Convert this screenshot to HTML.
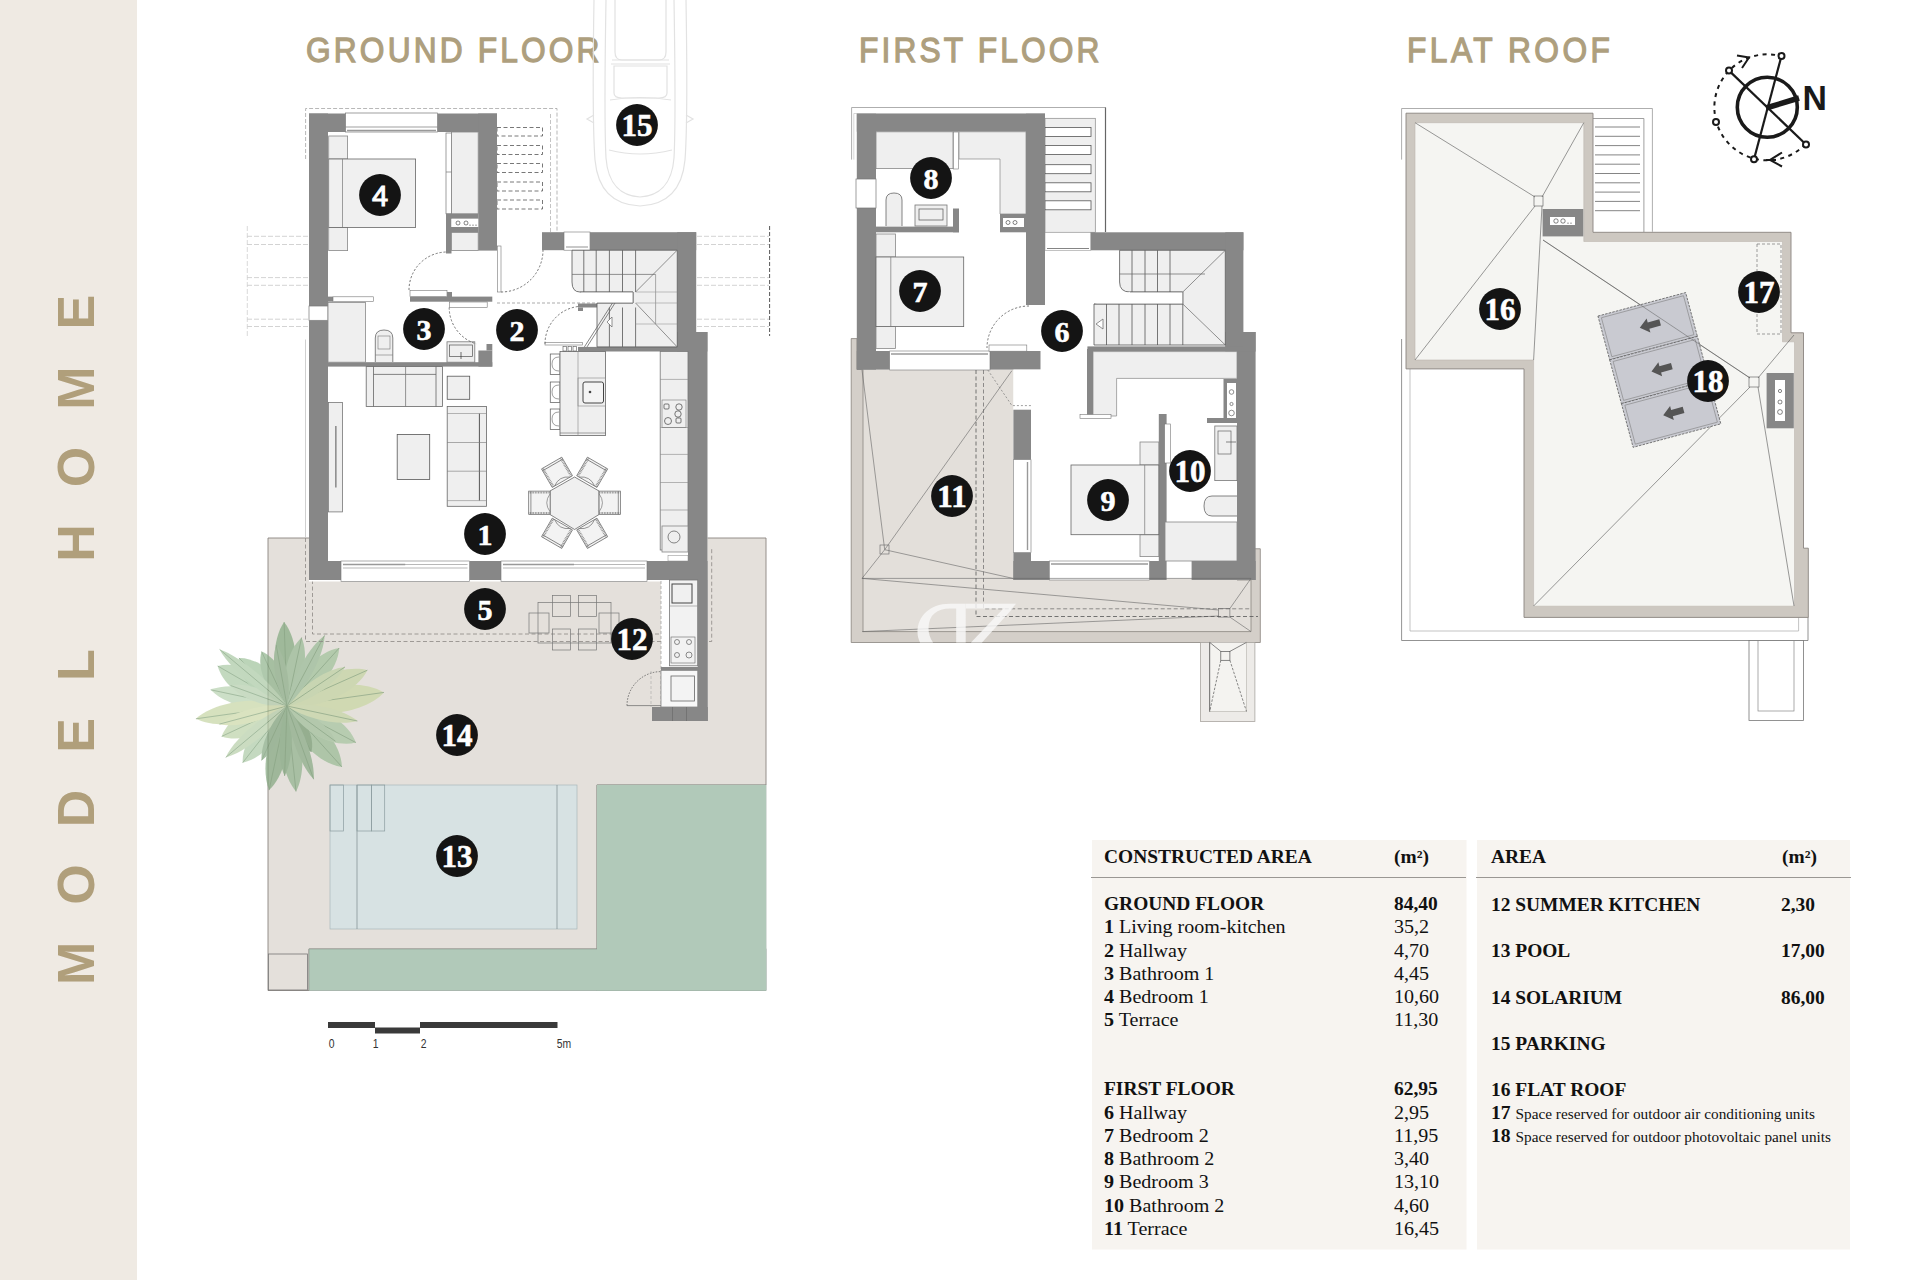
<!DOCTYPE html>
<html><head><meta charset="utf-8">
<style>
html,body{margin:0;padding:0;background:#fff;width:1920px;height:1280px;overflow:hidden}
svg{position:absolute;left:0;top:0;display:block}
</style></head>
<body>
<svg width="1920" height="1280" viewBox="0 0 1920 1280">
<rect x="0" y="0" width="137" height="1280" fill="#efeae3"/>
<text transform="translate(94,985) rotate(-90)" font-family="Liberation Sans,sans-serif" font-weight="bold" font-size="52" letter-spacing="37" fill="#b09f7b">MODEL HOME</text>
<g font-family="Liberation Sans,sans-serif" font-size="36" fill="#ae9f7e" stroke="#ae9f7e" stroke-width="1.3">
<text transform="translate(306 62) scale(0.88 1)" letter-spacing="3.6">GROUND FLOOR</text>
<text transform="translate(859 62) scale(0.88 1)" letter-spacing="3.6">FIRST FLOOR</text>
<text transform="translate(1407 62) scale(0.88 1)" letter-spacing="4">FLAT ROOF</text>
</g>
<g fill="#3a3a3a"><rect x="328" y="1022" width="47" height="6"/><rect x="375" y="1027.5" width="45" height="6"/><rect x="420" y="1022" width="137.5" height="6"/></g>
<g font-family="Liberation Sans,sans-serif" font-size="13" fill="#333" transform="scale(0.8,1)"><text x="411" y="1048">0</text><text x="466" y="1048">1</text><text x="526" y="1048">2</text><text x="696" y="1048">5m</text></g>
<g fill="none" stroke="#e2e2e2" stroke-width="1.2">
<path d="M594 0 C593 60 592 120 595 160 C598 192 615 205 640 206 C665 205 682 192 685 160 C688 120 687 60 686 0"/>
<path d="M606 0 C605 60 604 120 606 158 C608 185 622 196 640 197 C658 196 672 185 674 158 C676 120 675 60 674 0"/>
<path d="M615 0 V52 Q615 60 622 60 H659 Q666 60 666 52 V0"/>
<path d="M612 60 H669 M611 64 H670"/>
<path d="M614 66 V93 Q614 98 622 98 H659 Q667 98 667 93 V66 Z"/>
<path d="M610 100 Q640 95 671 100 M609 150 Q640 158 672 150"/>
<path d="M594 115 L587 119 L594 123 M686 115 L693 119 L686 123"/>
</g>
<path d="M268 538 H766 V785 H597 V949 H309 V990.5 H268 Z" fill="#e4e0db" stroke="#8a8580" stroke-width="0.9"/>
<rect x="597.0" y="785.0" width="169.0" height="205.5" fill="#b1c9b9" stroke="#8a9a90" stroke-width="0.6" />
<rect x="309.0" y="949.0" width="457.0" height="41.5" fill="#b1c9b9" stroke="#8a9a90" stroke-width="0.6" />
<rect x="597.0" y="785.0" width="169.0" height="205.5" fill="#b1c9b9" stroke="none" stroke-width="0.8" />
<rect x="268.5" y="954.0" width="39.0" height="36.0" fill="#e4e0db" stroke="#777" stroke-width="0.8" />
<rect x="330.0" y="785.0" width="247.0" height="144.0" fill="#d7e2e3" stroke="#a9b8ba" stroke-width="0.7" />
<line x1="357.0" y1="785.0" x2="357.0" y2="929.0" stroke="#7c8a8c" stroke-width="0.7"/>
<line x1="557.0" y1="785.0" x2="557.0" y2="929.0" stroke="#7c8a8c" stroke-width="0.7"/>
<rect x="330.0" y="785.0" width="13.5" height="46.0" fill="none" stroke="#8a9c9e" stroke-width="0.7" />
<rect x="357.0" y="785.0" width="14.4" height="46.0" fill="none" stroke="#8a9c9e" stroke-width="0.7" />
<rect x="371.4" y="785.0" width="13.3" height="46.0" fill="none" stroke="#8a9c9e" stroke-width="0.7" />
<defs><filter id="blr" x="-20%" y="-20%" width="140%" height="140%"><feGaussianBlur stdDeviation="0.7"/></filter></defs>
<g opacity="0.68" filter="url(#blr)">
<path d="M287 706 C302.0 676.1 297.4 638.4 284.1 622.1 C271.9 639.3 270.0 677.2 287 706 Z" fill="#7fa87c"/>
<path d="M287 706 L284.1 622.1" stroke="#5f875c" stroke-width="0.7" fill="none"/>
<path d="M287 706 C304.8 684.7 308.8 653.4 301.6 637.5 C288.5 649.1 279.4 679.3 287 706 Z" fill="#94b891"/>
<path d="M287 706 L301.6 637.5" stroke="#5f875c" stroke-width="0.7" fill="none"/>
<path d="M287 706 C272.8 674.7 239.6 660.1 217.7 666.0 C223.6 687.9 252.8 709.3 287 706 Z" fill="#a8c8a2"/>
<path d="M287 706 L217.7 666.0" stroke="#5f875c" stroke-width="0.7" fill="none"/>
<path d="M287 706 C263.2 686.6 228.3 682.1 210.7 689.8 C223.6 704.0 257.4 714.0 287 706 Z" fill="#b5d0ad"/>
<path d="M287 706 L210.7 689.8" stroke="#5f875c" stroke-width="0.7" fill="none"/>
<path d="M287 706 C282.9 676.4 258.7 657.4 238.9 657.9 C238.4 677.7 257.4 701.9 287 706 Z" fill="#9cc098"/>
<path d="M287 706 L238.9 657.9" stroke="#5f875c" stroke-width="0.7" fill="none"/>
<path d="M287 706 C252.9 694.6 212.3 703.6 195.9 718.8 C215.9 728.9 257.3 726.3 287 706 Z" fill="#c3d3a0"/>
<path d="M287 706 L195.9 718.8" stroke="#5f875c" stroke-width="0.7" fill="none"/>
<path d="M287 706 C256.6 700.3 228.7 717.3 221.7 736.4 C240.9 743.4 271.8 733.0 287 706 Z" fill="#b9d0a4"/>
<path d="M287 706 L221.7 736.4" stroke="#5f875c" stroke-width="0.7" fill="none"/>
<path d="M287 706 C258.9 716.0 241.5 743.5 242.7 762.7 C261.6 759.3 284.1 735.7 287 706 Z" fill="#a9c8a3"/>
<path d="M287 706 L242.7 762.7" stroke="#5f875c" stroke-width="0.7" fill="none"/>
<path d="M287 706 C266.1 732.3 261.0 770.8 269.1 790.1 C284.4 775.8 295.4 738.6 287 706 Z" fill="#7fa57c"/>
<path d="M287 706 L269.1 790.1" stroke="#5f875c" stroke-width="0.7" fill="none"/>
<path d="M287 706 C275.2 737.5 282.3 775.7 296.0 791.5 C306.1 773.2 305.1 734.4 287 706 Z" fill="#8db08a"/>
<path d="M287 706 L296.0 791.5" stroke="#5f875c" stroke-width="0.7" fill="none"/>
<path d="M287 706 C292.8 739.4 320.2 764.4 341.9 766.9 C341.6 745.1 319.6 715.3 287 706 Z" fill="#95b991"/>
<path d="M287 706 L341.9 766.9" stroke="#5f875c" stroke-width="0.7" fill="none"/>
<path d="M287 706 C302.7 734.7 335.3 748.0 355.9 742.6 C348.9 722.6 319.6 702.9 287 706 Z" fill="#a3c39d"/>
<path d="M287 706 L355.9 742.6" stroke="#5f875c" stroke-width="0.7" fill="none"/>
<path d="M287 706 C323.7 721.0 366.9 710.9 384.0 692.4 C362.4 679.2 318.2 681.4 287 706 Z" fill="#c8d6a0"/>
<path d="M287 706 L384.0 692.4" stroke="#5f875c" stroke-width="0.7" fill="none"/>
<path d="M287 706 C322.5 709.9 357.2 690.5 367.4 670.2 C345.5 664.2 307.8 677.0 287 706 Z" fill="#c3d49f"/>
<path d="M287 706 L367.4 670.2" stroke="#5f875c" stroke-width="0.7" fill="none"/>
<path d="M287 706 C317.2 696.4 338.3 668.2 339.2 648.0 C319.2 651.1 293.4 675.0 287 706 Z" fill="#9dc097"/>
<path d="M287 706 L339.2 648.0" stroke="#5f875c" stroke-width="0.7" fill="none"/>
<path d="M287 706 C284.9 727.7 298.1 747.2 311.4 751.9 C315.0 738.2 306.1 716.4 287 706 Z" fill="#6f976c"/>
<path d="M287 706 L311.4 751.9" stroke="#5f875c" stroke-width="0.7" fill="none"/>
<path d="M287 706 C290.8 681.1 276.9 657.8 261.6 651.6 C256.6 667.2 265.4 692.9 287 706 Z" fill="#8ab087"/>
<path d="M287 706 L261.6 651.6" stroke="#5f875c" stroke-width="0.7" fill="none"/>
<path d="M287 706 C292.1 683.1 285.5 655.9 276.2 644.9 C271.3 658.4 274.4 686.2 287 706 Z" fill="#86ab83"/>
<path d="M287 706 L276.2 644.9" stroke="#5f875c" stroke-width="0.7" fill="none"/>
<path d="M287 706 C270.7 689.4 244.6 682.1 230.6 685.5 C239.2 697.1 263.8 708.2 287 706 Z" fill="#b0cba8"/>
<path d="M287 706 L230.6 685.5" stroke="#5f875c" stroke-width="0.7" fill="none"/>
<path d="M287 706 C269.2 679.3 237.7 655.2 219.6 649.4 C228.4 666.3 257.6 693.1 287 706 Z" fill="#a6c6a0"/>
<path d="M287 706 L219.6 649.4" stroke="#5f875c" stroke-width="0.7" fill="none"/>
<path d="M287 706 C260.7 702.7 230.8 712.8 219.4 724.1 C235.0 728.2 265.9 722.0 287 706 Z" fill="#c9d6a3"/>
<path d="M287 706 L219.4 724.1" stroke="#5f875c" stroke-width="0.7" fill="none"/>
<path d="M287 706 C259.1 716.3 232.8 741.0 225.7 757.4 C243.1 753.3 272.0 731.7 287 706 Z" fill="#b3cca5"/>
<path d="M287 706 L225.7 757.4" stroke="#5f875c" stroke-width="0.7" fill="none"/>
<path d="M287 706 C270.0 721.2 260.2 746.5 261.6 760.4 C273.2 752.5 286.3 728.8 287 706 Z" fill="#7ea37b"/>
<path d="M287 706 L261.6 760.4" stroke="#5f875c" stroke-width="0.7" fill="none"/>
<path d="M287 706 C277.2 730.2 277.9 761.7 284.6 776.0 C292.2 762.2 295.1 730.8 287 706 Z" fill="#7aa177"/>
<path d="M287 706 L284.6 776.0" stroke="#5f875c" stroke-width="0.7" fill="none"/>
<path d="M287 706 C298.1 726.4 321.1 740.7 335.5 741.3 C330.5 727.7 309.9 710.3 287 706 Z" fill="#9cbe97"/>
<path d="M287 706 L335.5 741.3" stroke="#5f875c" stroke-width="0.7" fill="none"/>
<path d="M287 706 C309.6 721.0 341.7 725.8 357.4 721.0 C345.0 710.2 313.7 701.5 287 706 Z" fill="#c4d5a2"/>
<path d="M287 706 L357.4 721.0" stroke="#5f875c" stroke-width="0.7" fill="none"/>
<path d="M287 706 C312.9 700.6 337.9 681.3 345.0 666.9 C329.0 668.1 301.7 684.0 287 706 Z" fill="#bcd19f"/>
<path d="M287 706 L345.0 666.9" stroke="#5f875c" stroke-width="0.7" fill="none"/>
<path d="M287 706 C309.0 686.0 324.1 653.2 324.6 635.4 C310.0 645.7 291.3 676.6 287 706 Z" fill="#96b993"/>
<path d="M287 706 L324.6 635.4" stroke="#5f875c" stroke-width="0.7" fill="none"/>
<path d="M287 706 C287.9 734.7 301.6 767.1 313.7 779.3 C315.1 762.2 304.8 728.6 287 706 Z" fill="#83a880"/>
<path d="M287 706 L313.7 779.3" stroke="#5f875c" stroke-width="0.7" fill="none"/>
</g>
<line x1="305.5" y1="339.5" x2="305.5" y2="538.0" stroke="#c4c4c4" stroke-width="0.8"/>
<path d="M305.5 538 V641.5 H711.7 V549" fill="none" stroke="#8c8884" stroke-width="0.8" stroke-dasharray="4 2.5" />
<path d="M312.5 580 V634 H704" fill="none" stroke="#8c8884" stroke-width="0.8" stroke-dasharray="4 2.5" />
<line x1="247.0" y1="236.3" x2="309.0" y2="236.3" stroke="#c8c8c8" stroke-width="0.8" stroke-dasharray="5 2"/>
<line x1="697.0" y1="236.3" x2="769.0" y2="236.3" stroke="#c8c8c8" stroke-width="0.8" stroke-dasharray="5 2"/>
<line x1="247.0" y1="244.5" x2="309.0" y2="244.5" stroke="#c8c8c8" stroke-width="0.8" stroke-dasharray="5 2"/>
<line x1="697.0" y1="244.5" x2="769.0" y2="244.5" stroke="#c8c8c8" stroke-width="0.8" stroke-dasharray="5 2"/>
<line x1="247.0" y1="277.6" x2="309.0" y2="277.6" stroke="#c8c8c8" stroke-width="0.8" stroke-dasharray="5 2"/>
<line x1="697.0" y1="277.6" x2="769.0" y2="277.6" stroke="#c8c8c8" stroke-width="0.8" stroke-dasharray="5 2"/>
<line x1="247.0" y1="285.3" x2="309.0" y2="285.3" stroke="#c8c8c8" stroke-width="0.8" stroke-dasharray="5 2"/>
<line x1="697.0" y1="285.3" x2="769.0" y2="285.3" stroke="#c8c8c8" stroke-width="0.8" stroke-dasharray="5 2"/>
<line x1="247.0" y1="319.2" x2="309.0" y2="319.2" stroke="#c8c8c8" stroke-width="0.8" stroke-dasharray="5 2"/>
<line x1="697.0" y1="319.2" x2="769.0" y2="319.2" stroke="#c8c8c8" stroke-width="0.8" stroke-dasharray="5 2"/>
<line x1="247.0" y1="326.5" x2="309.0" y2="326.5" stroke="#c8c8c8" stroke-width="0.8" stroke-dasharray="5 2"/>
<line x1="697.0" y1="326.5" x2="769.0" y2="326.5" stroke="#c8c8c8" stroke-width="0.8" stroke-dasharray="5 2"/>
<line x1="247.3" y1="226.0" x2="247.3" y2="337.0" stroke="#cfcfcf" stroke-width="0.8" stroke-dasharray="5 2"/>
<line x1="769.6" y1="226.0" x2="769.6" y2="336.0" stroke="#444" stroke-width="0.9" stroke-dasharray="4 2"/>
<path d="M305.6 159 V108.5 H557 V233" fill="none" stroke="#9a9a9a" stroke-width="0.7" stroke-dasharray="4 2" />
<line x1="550.5" y1="114.0" x2="550.5" y2="233.0" stroke="#aaa" stroke-width="0.7" stroke-dasharray="4 2"/>
<rect x="497.0" y="127.5" width="45.5" height="8.5" fill="none" stroke="#555" stroke-width="0.8" stroke-dasharray="4 2.5"/>
<rect x="497.0" y="145.5" width="45.5" height="9.0" fill="none" stroke="#555" stroke-width="0.8" stroke-dasharray="4 2.5"/>
<rect x="497.0" y="163.5" width="45.5" height="9.0" fill="none" stroke="#555" stroke-width="0.8" stroke-dasharray="4 2.5"/>
<rect x="497.0" y="182.0" width="45.5" height="9.0" fill="none" stroke="#555" stroke-width="0.8" stroke-dasharray="4 2.5"/>
<rect x="497.0" y="200.0" width="45.5" height="9.0" fill="none" stroke="#555" stroke-width="0.8" stroke-dasharray="4 2.5"/>
<rect x="309.0" y="536.5" width="398.5" height="45.0" fill="#fff" stroke="none" stroke-width="0.8" />
<rect x="309.0" y="113.5" width="19.0" height="192.5" fill="#878787" stroke="none" stroke-width="0.8" />
<rect x="309.0" y="320.3" width="19.0" height="259.7" fill="#878787" stroke="none" stroke-width="0.8" />
<rect x="309.0" y="561.0" width="32.0" height="19.0" fill="#878787" stroke="none" stroke-width="0.8" />
<rect x="309.0" y="306.0" width="19.0" height="14.3" fill="#fff" stroke="#777" stroke-width="0.7" />
<rect x="309.0" y="113.5" width="36.6" height="18.5" fill="#878787" stroke="none" stroke-width="0.8" />
<rect x="437.5" y="113.5" width="59.5" height="18.5" fill="#878787" stroke="none" stroke-width="0.8" />
<rect x="478.2" y="113.5" width="18.8" height="137.1" fill="#878787" stroke="none" stroke-width="0.8" />
<rect x="345.6" y="113.0" width="91.9" height="19.0" fill="#fff" stroke="#777" stroke-width="0.7" />
<line x1="345.6" y1="127.0" x2="437.5" y2="127.0" stroke="#777" stroke-width="0.7"/>
<line x1="347.0" y1="130.5" x2="436.0" y2="130.5" stroke="#999" stroke-width="1.6"/>
<rect x="451.5" y="132.0" width="26.7" height="81.8" fill="#efefef" stroke="#888" stroke-width="0.8" />
<rect x="446.0" y="133.0" width="5.5" height="80.8" fill="#fff" stroke="#777" stroke-width="0.7" />
<line x1="446.0" y1="172.0" x2="451.5" y2="172.0" stroke="#777" stroke-width="0.7"/>
<rect x="446.0" y="213.8" width="32.2" height="5.0" fill="#878787" stroke="none" stroke-width="0.8" />
<rect x="446.0" y="213.8" width="5.5" height="39.7" fill="#878787" stroke="none" stroke-width="0.8" />
<rect x="446.0" y="227.0" width="32.2" height="5.4" fill="#878787" stroke="none" stroke-width="0.8" />
<rect x="451.5" y="218.8" width="26.7" height="8.2" fill="#fff" stroke="none" stroke-width="0.8" />
<g fill="none" stroke="#333" stroke-width="0.6"><circle cx="458" cy="223" r="2"/><circle cx="466" cy="223" r="2"/><path d="M470 226 v-1.5 M473 226 v-1.5 M476 226 v-1.5"/></g>
<rect x="451.5" y="232.4" width="26.7" height="18.2" fill="#efefef" stroke="#888" stroke-width="0.8" />
<rect x="328.7" y="136.0" width="18.9" height="23.0" fill="#efefef" stroke="#888" stroke-width="0.8" />
<rect x="328.7" y="227.5" width="18.9" height="23.1" fill="#efefef" stroke="#888" stroke-width="0.8" />
<rect x="328.7" y="159.0" width="86.9" height="68.5" fill="#f0f0f0" stroke="#666" stroke-width="0.8" />
<line x1="342.5" y1="159.0" x2="342.5" y2="227.5" stroke="#777" stroke-width="0.7"/>
<rect x="410.0" y="296.6" width="82.3" height="5.1" fill="#878787" stroke="none" stroke-width="0.8" />
<rect x="328.0" y="296.6" width="5.0" height="5.1" fill="#878787" stroke="none" stroke-width="0.8" />
<rect x="333.0" y="296.8" width="40.4" height="4.7" fill="#fff" stroke="#777" stroke-width="0.6" />
<rect x="410.0" y="290.4" width="37.0" height="6.2" fill="#fff" stroke="#777" stroke-width="0.6" />
<rect x="447.0" y="292.0" width="5.0" height="5.0" fill="#878787" stroke="none" stroke-width="0.8" />
<rect x="449.3" y="302.0" width="37.9" height="5.5" fill="#fff" stroke="#777" stroke-width="0.6" />
<rect x="328.0" y="362.2" width="164.3" height="4.4" fill="#878787" stroke="none" stroke-width="0.8" />
<rect x="478.4" y="350.5" width="13.9" height="16.1" fill="#878787" stroke="none" stroke-width="0.8" />
<rect x="486.5" y="344.0" width="5.8" height="6.5" fill="#878787" stroke="none" stroke-width="0.8" />
<rect x="328.0" y="302.4" width="37.4" height="59.8" fill="#efefef" stroke="#888" stroke-width="0.8" />
<path d="M375.3 362 V338 Q375.3 330 384 330 Q392.8 330 392.8 338 V362" fill="#efefef" stroke="#666" stroke-width="0.8" />
<rect x="378.0" y="336.0" width="12.0" height="13.0" fill="none" stroke="#777" stroke-width="0.6" />
<line x1="375.3" y1="355.0" x2="392.8" y2="355.0" stroke="#777" stroke-width="0.6"/>
<rect x="447.0" y="341.8" width="27.8" height="20.4" fill="#efefef" stroke="#777" stroke-width="0.8" />
<rect x="449.5" y="345.0" width="23.0" height="11.5" fill="none" stroke="#555" stroke-width="0.7" />
<line x1="461.0" y1="352.0" x2="461.0" y2="359.0" stroke="#333" stroke-width="0.7"/>
<path d="M409.0 290.0 A38 38 0 0 1 447.0 252.0" fill="none" stroke="#555" stroke-width="0.8" stroke-dasharray="2.2 1.8" />
<path d="M449.2 307.5 A38 38 0 0 0 476.1 343.8" fill="none" stroke="#555" stroke-width="0.8" stroke-dasharray="2.2 1.8" />
<rect x="497.4" y="246.0" width="3.6" height="46.0" fill="#fff" stroke="#777" stroke-width="0.6" />
<path d="M501.0 292.0 A42 42 0 0 0 543.0 250.0" fill="none" stroke="#555" stroke-width="0.8" stroke-dasharray="2.2 1.8" />
<rect x="545.0" y="342.5" width="37.5" height="2.5" fill="#fff" stroke="#777" stroke-width="0.6" />
<path d="M545.0 343.8 A37.5 37.5 0 0 1 579.2 306.4" fill="none" stroke="#555" stroke-width="0.8" stroke-dasharray="2.2 1.8" />
<path d="M497 303 H612" fill="none" stroke="#888" stroke-width="0.7" stroke-dasharray="3 2" />
<rect x="542.0" y="232.2" width="22.0" height="18.0" fill="#878787" stroke="none" stroke-width="0.8" />
<rect x="564.0" y="232.0" width="26.0" height="18.2" fill="#fff" stroke="#777" stroke-width="0.6" />
<line x1="566.0" y1="247.0" x2="588.0" y2="247.0" stroke="#777" stroke-width="0.8"/>
<rect x="590.0" y="232.2" width="106.2" height="18.0" fill="#878787" stroke="none" stroke-width="0.8" />
<rect x="677.2" y="232.2" width="19.0" height="119.2" fill="#878787" stroke="none" stroke-width="0.8" />
<rect x="688.0" y="332.0" width="19.5" height="248.0" fill="#878787" stroke="none" stroke-width="0.8" />
<rect x="677.2" y="332.0" width="30.2" height="19.5" fill="#878787" stroke="none" stroke-width="0.8" />
<rect x="578.0" y="346.9" width="110.0" height="4.6" fill="#878787" stroke="none" stroke-width="0.8" />
<rect x="578.0" y="303.5" width="34.5" height="4.0" fill="#878787" stroke="none" stroke-width="0.8" />
<rect x="578.0" y="307.5" width="5.0" height="3.5" fill="#878787" stroke="none" stroke-width="0.8" />
<g fill="#efefef" stroke="#555" stroke-width="0.8">
<path d="M572 250.25 H677.25 V346.9 H597 V303 H633 V292 H580 Q572 292 572 282 Z"/>
</g>
<line x1="583.8" y1="250.2" x2="583.8" y2="292.0" stroke="#555" stroke-width="0.8"/>
<line x1="596.2" y1="250.2" x2="596.2" y2="292.0" stroke="#555" stroke-width="0.8"/>
<line x1="609.4" y1="250.2" x2="609.4" y2="292.0" stroke="#555" stroke-width="0.8"/>
<line x1="622.5" y1="250.2" x2="622.5" y2="292.0" stroke="#555" stroke-width="0.8"/>
<line x1="635.6" y1="250.2" x2="635.6" y2="292.0" stroke="#555" stroke-width="0.8"/>
<line x1="609.4" y1="307.5" x2="609.4" y2="346.9" stroke="#555" stroke-width="0.8"/>
<line x1="622.5" y1="307.5" x2="622.5" y2="346.9" stroke="#555" stroke-width="0.8"/>
<line x1="635.6" y1="307.5" x2="635.6" y2="346.9" stroke="#555" stroke-width="0.8"/>
<line x1="572.0" y1="274.4" x2="655.6" y2="274.4" stroke="#666" stroke-width="0.7"/>
<line x1="655.6" y1="274.4" x2="655.6" y2="324.0" stroke="#777" stroke-width="0.6"/>
<line x1="635.6" y1="292.0" x2="677.2" y2="250.2" stroke="#666" stroke-width="0.7"/>
<line x1="635.6" y1="303.0" x2="677.2" y2="346.9" stroke="#666" stroke-width="0.7"/>
<line x1="635.6" y1="292.0" x2="677.2" y2="292.0" stroke="#999" stroke-width="0.6"/>
<line x1="635.6" y1="303.0" x2="677.2" y2="303.0" stroke="#999" stroke-width="0.6"/>
<line x1="635.6" y1="324.0" x2="677.2" y2="324.0" stroke="#999" stroke-width="0.6"/>
<path d="M580 292 H633 V303 H597" fill="#fff" stroke="#666" stroke-width="0.7" />
<line x1="584.4" y1="346.9" x2="612.5" y2="303.0" stroke="#666" stroke-width="0.8"/>
<line x1="587.0" y1="346.9" x2="615.0" y2="303.0" stroke="#666" stroke-width="0.8"/>
<path d="M607 322 L612 317 L612 327 Z" fill="#fff" stroke="#666" stroke-width="0.7" />
<rect x="469.5" y="561.0" width="31.5" height="19.0" fill="#878787" stroke="none" stroke-width="0.8" />
<rect x="647.0" y="561.0" width="60.5" height="19.0" fill="#878787" stroke="none" stroke-width="0.8" />
<rect x="341.0" y="561.0" width="128.5" height="20.4" fill="#fff" stroke="#777" stroke-width="0.6" />
<line x1="343.0" y1="564.5" x2="467.5" y2="564.5" stroke="#888" stroke-width="0.6"/>
<line x1="343.0" y1="568.0" x2="467.5" y2="568.0" stroke="#888" stroke-width="0.6"/>
<line x1="343.0" y1="564.5" x2="405.2" y2="564.5" stroke="#999" stroke-width="1.6"/>
<rect x="501.0" y="561.0" width="146.0" height="20.4" fill="#fff" stroke="#777" stroke-width="0.6" />
<line x1="503.0" y1="564.5" x2="645.0" y2="564.5" stroke="#888" stroke-width="0.6"/>
<line x1="503.0" y1="568.0" x2="645.0" y2="568.0" stroke="#888" stroke-width="0.6"/>
<line x1="503.0" y1="564.5" x2="574.0" y2="564.5" stroke="#999" stroke-width="1.6"/>
<rect x="366.2" y="366.6" width="76.2" height="39.9" fill="#efefef" stroke="#666" stroke-width="0.8" />
<line x1="373.5" y1="374.4" x2="436.0" y2="374.4" stroke="#666" stroke-width="0.8"/>
<line x1="373.5" y1="366.6" x2="373.5" y2="406.5" stroke="#666" stroke-width="0.8"/>
<line x1="436.0" y1="366.6" x2="436.0" y2="406.5" stroke="#666" stroke-width="0.8"/>
<line x1="405.6" y1="366.6" x2="405.6" y2="406.5" stroke="#777" stroke-width="0.8"/>
<rect x="447.2" y="376.2" width="22.5" height="23.1" fill="#efefef" stroke="#555" stroke-width="0.8" />
<rect x="447.2" y="406.5" width="39.2" height="99.8" fill="#efefef" stroke="#666" stroke-width="0.8" />
<line x1="479.4" y1="413.5" x2="479.4" y2="500.6" stroke="#555" stroke-width="1"/>
<line x1="447.2" y1="413.5" x2="486.5" y2="413.5" stroke="#888" stroke-width="0.6"/>
<line x1="447.2" y1="500.6" x2="486.5" y2="500.6" stroke="#888" stroke-width="0.6"/>
<line x1="447.2" y1="442.5" x2="486.5" y2="442.5" stroke="#777" stroke-width="0.6"/>
<line x1="447.2" y1="471.2" x2="486.5" y2="471.2" stroke="#777" stroke-width="0.6"/>
<rect x="397.2" y="434.4" width="32.5" height="45.0" fill="#efefef" stroke="#555" stroke-width="0.8" />
<rect x="328.5" y="402.5" width="14.0" height="109.4" fill="#efefef" stroke="#777" stroke-width="0.8" />
<line x1="335.9" y1="426.0" x2="335.9" y2="487.5" stroke="#555" stroke-width="1"/>
<g fill="#fff" stroke="#555" stroke-width="0.7">
<rect x="550.25" y="354" width="9.75" height="20.5"/>
<path d="M559 357 Q552 357 552 364 Q552 371 559 371" fill="none" stroke="#777"/>
<rect x="550.25" y="382" width="9.75" height="20.5"/>
<path d="M559 385 Q552 385 552 392 Q552 399 559 399" fill="none" stroke="#777"/>
<rect x="550.25" y="409" width="9.75" height="20.5"/>
<path d="M559 412 Q552 412 552 419 Q552 426 559 426" fill="none" stroke="#777"/>
</g>
<rect x="560.0" y="351.5" width="45.6" height="84.1" fill="#efefef" stroke="#666" stroke-width="0.8" />
<line x1="578.0" y1="351.5" x2="578.0" y2="435.6" stroke="#888" stroke-width="0.6"/>
<line x1="560.0" y1="433.0" x2="605.6" y2="433.0" stroke="#666" stroke-width="0.6"/>
<rect x="578.0" y="378.0" width="27.6" height="28.0" fill="none" stroke="#888" stroke-width="0.6" />
<rect x="583.0" y="382.0" width="20.5" height="21.0" fill="#f4f4f4" stroke="#444" stroke-width="1.0" rx="2"/>
<circle cx="590" cy="392" r="1.3" fill="#444"/>
<rect x="563.0" y="346.5" width="3.5" height="4.5" fill="#fff" stroke="#555" stroke-width="0.6" />
<rect x="568.0" y="346.5" width="3.5" height="4.5" fill="#fff" stroke="#555" stroke-width="0.6" />
<rect x="573.0" y="346.5" width="3.5" height="4.5" fill="#fff" stroke="#555" stroke-width="0.6" />
<rect x="660.2" y="351.5" width="27.8" height="198.5" fill="#efefef" stroke="#777" stroke-width="0.8" />
<line x1="660.2" y1="379.4" x2="688.0" y2="379.4" stroke="#888" stroke-width="0.6"/>
<line x1="660.2" y1="427.5" x2="688.0" y2="427.5" stroke="#888" stroke-width="0.6"/>
<line x1="660.2" y1="454.4" x2="688.0" y2="454.4" stroke="#888" stroke-width="0.6"/>
<line x1="660.2" y1="482.5" x2="688.0" y2="482.5" stroke="#888" stroke-width="0.6"/>
<line x1="660.2" y1="510.0" x2="688.0" y2="510.0" stroke="#888" stroke-width="0.6"/>
<rect x="662.0" y="400.0" width="24.0" height="27.5" fill="none" stroke="#777" stroke-width="0.6" />
<g fill="none" stroke="#444" stroke-width="0.7"><rect x="664" y="404" width="5" height="5" rx="1"/><circle cx="679" cy="407" r="3.2"/><circle cx="678" cy="414" r="3.2"/><circle cx="668" cy="421" r="3.5"/><rect x="676" y="418" width="5" height="5" rx="1"/></g>
<rect x="662.0" y="526.0" width="26.0" height="26.0" fill="#efefef" stroke="#888" stroke-width="0.8" />
<rect x="668.0" y="555.5" width="20.0" height="5.5" fill="#fff" stroke="#888" stroke-width="0.5" />
<circle cx="674" cy="537" r="6" fill="none" stroke="#555" stroke-width="0.7"/>
<polygon points="574.6,477 599,491 599,514.5 574.6,529.5 550,514.5 550,491" fill="#f0f0f0" stroke="#666" stroke-width="0.8"/>
<g transform="translate(539.4 502.8) rotate(180)">
<rect x="-10.7" y="-11.7" width="21.4" height="23.4" fill="#f3f3f3" stroke="#666" stroke-width="0.7"/>
<path d="M-10.7 -10.2 H10.7 M-10.7 10.2 H10.7" stroke="#888" stroke-width="2" stroke-dasharray="0.8 0.8" fill="none"/>
<path d="M8.5 -11.7 V11.7" stroke="#777" stroke-width="0.8" fill="none"/>
<path d="M-10.7 -9 Q-4 0 -10.7 9" stroke="#777" stroke-width="0.7" fill="none"/>
</g>
<g transform="translate(609.8 502.8) rotate(0)">
<rect x="-10.7" y="-11.7" width="21.4" height="23.4" fill="#f3f3f3" stroke="#666" stroke-width="0.7"/>
<path d="M-10.7 -10.2 H10.7 M-10.7 10.2 H10.7" stroke="#888" stroke-width="2" stroke-dasharray="0.8 0.8" fill="none"/>
<path d="M8.5 -11.7 V11.7" stroke="#777" stroke-width="0.8" fill="none"/>
<path d="M-10.7 -9 Q-4 0 -10.7 9" stroke="#777" stroke-width="0.7" fill="none"/>
</g>
<g transform="translate(557.0 472.3) rotate(-120)">
<rect x="-10.7" y="-11.7" width="21.4" height="23.4" fill="#f3f3f3" stroke="#666" stroke-width="0.7"/>
<path d="M-10.7 -10.2 H10.7 M-10.7 10.2 H10.7" stroke="#888" stroke-width="2" stroke-dasharray="0.8 0.8" fill="none"/>
<path d="M8.5 -11.7 V11.7" stroke="#777" stroke-width="0.8" fill="none"/>
<path d="M-10.7 -9 Q-4 0 -10.7 9" stroke="#777" stroke-width="0.7" fill="none"/>
</g>
<g transform="translate(592.2 472.3) rotate(-60)">
<rect x="-10.7" y="-11.7" width="21.4" height="23.4" fill="#f3f3f3" stroke="#666" stroke-width="0.7"/>
<path d="M-10.7 -10.2 H10.7 M-10.7 10.2 H10.7" stroke="#888" stroke-width="2" stroke-dasharray="0.8 0.8" fill="none"/>
<path d="M8.5 -11.7 V11.7" stroke="#777" stroke-width="0.8" fill="none"/>
<path d="M-10.7 -9 Q-4 0 -10.7 9" stroke="#777" stroke-width="0.7" fill="none"/>
</g>
<g transform="translate(557.0 533.3) rotate(120)">
<rect x="-10.7" y="-11.7" width="21.4" height="23.4" fill="#f3f3f3" stroke="#666" stroke-width="0.7"/>
<path d="M-10.7 -10.2 H10.7 M-10.7 10.2 H10.7" stroke="#888" stroke-width="2" stroke-dasharray="0.8 0.8" fill="none"/>
<path d="M8.5 -11.7 V11.7" stroke="#777" stroke-width="0.8" fill="none"/>
<path d="M-10.7 -9 Q-4 0 -10.7 9" stroke="#777" stroke-width="0.7" fill="none"/>
</g>
<g transform="translate(592.2 533.3) rotate(60)">
<rect x="-10.7" y="-11.7" width="21.4" height="23.4" fill="#f3f3f3" stroke="#666" stroke-width="0.7"/>
<path d="M-10.7 -10.2 H10.7 M-10.7 10.2 H10.7" stroke="#888" stroke-width="2" stroke-dasharray="0.8 0.8" fill="none"/>
<path d="M8.5 -11.7 V11.7" stroke="#777" stroke-width="0.8" fill="none"/>
<path d="M-10.7 -9 Q-4 0 -10.7 9" stroke="#777" stroke-width="0.7" fill="none"/>
</g>
<rect x="661.0" y="580.0" width="47.0" height="141.0" fill="#fff" stroke="none" stroke-width="0.8" />
<path d="M661 581 V707" fill="none" stroke="#999" stroke-width="0.7" stroke-dasharray="3 2" />
<rect x="669.5" y="580.0" width="28.2" height="85.8" fill="#f2f2f2" stroke="#777" stroke-width="0.8" />
<rect x="672.0" y="584.0" width="20.0" height="19.0" fill="#f0f0f0" stroke="#444" stroke-width="1" />
<line x1="669.5" y1="606.0" x2="697.7" y2="606.0" stroke="#888" stroke-width="0.6"/>
<rect x="671.0" y="637.0" width="24.0" height="26.0" fill="none" stroke="#666" stroke-width="0.6" />
<g fill="none" stroke="#444" stroke-width="0.6"><circle cx="677" cy="642" r="2.5"/><circle cx="689" cy="642" r="2.5"/><circle cx="677" cy="655" r="2.5"/><circle cx="689" cy="655" r="3"/></g>
<rect x="697.7" y="580.0" width="10.1" height="141.0" fill="#878787" stroke="none" stroke-width="0.8" />
<rect x="652.0" y="707.0" width="55.8" height="14.0" fill="#878787" stroke="none" stroke-width="0.8" />
<rect x="661.0" y="667.0" width="39.0" height="3.5" fill="#878787" stroke="none" stroke-width="0.8" />
<rect x="661.0" y="670.5" width="36.7" height="36.5" fill="#f7f7f7" stroke="#888" stroke-width="0.8" />
<rect x="671.0" y="676.0" width="23.5" height="25.0" fill="#f3f3f3" stroke="#666" stroke-width="0.8" />
<line x1="672.5" y1="707.0" x2="672.5" y2="721.0" stroke="#666" stroke-width="0.6"/>
<line x1="686.5" y1="707.0" x2="686.5" y2="721.0" stroke="#666" stroke-width="0.6"/>
<path d="M627.0 705.6 A34 34 0 0 1 661.0 671.6" fill="none" stroke="#555" stroke-width="0.8" stroke-dasharray="1.5 1.5" />
<line x1="627.0" y1="705.6" x2="661.0" y2="705.6" stroke="#666" stroke-width="0.7"/>
<path d="M651 671 V707" fill="none" stroke="#aaa" stroke-width="0.6" stroke-dasharray="3 2" />
<g fill="none" stroke="#777" stroke-width="0.7">
<rect x="538" y="602.5" width="73" height="40.5"/>
<rect x="552.5" y="595.5" width="18" height="21"/><rect x="552.5" y="629" width="18" height="21"/>
<rect x="578.5" y="595.5" width="18" height="21"/><rect x="578.5" y="629" width="18" height="21"/>
<rect x="529" y="613" width="20" height="20"/><rect x="599" y="613" width="20" height="20"/>
</g>
<path d="M851.2 338.6 H857 V369.5 H1013.6 V578.4 H1260.3 V642.5 H851.2 Z" fill="#e3dfda"/>
<path d="M851.2 338.6 H857 V369.5 H863 V631.6 H1251 V580 H1237 V548.75 H1260.3 V642.5 H851.2 Z" fill="#d4cfc9" stroke="#8a8580" stroke-width="0.8"/>
<rect x="1200.4" y="642.4" width="54.5" height="79.1" fill="#edebe8" stroke="#a9a5a0" stroke-width="0.8" />
<rect x="1209.7" y="642.4" width="36.8" height="69.1" fill="#f4f3f0" stroke="#b5b1ac" stroke-width="0.6" />
<line x1="1209.7" y1="642.4" x2="1209.7" y2="711.5" stroke="#555" stroke-width="0.8"/>
<g fill="none" stroke="#555" stroke-width="0.7">
<rect x="1220.8" y="651.4" width="9.1" height="8.9"/>
<path d="M1209.7 642.4 L1220.8 651.4 M1246.5 642.4 L1229.9 651.4"/>
<path d="M1220.8 660.3 L1209.7 711.5 M1229.9 660.3 L1246.5 711.5" stroke-dasharray="2.5 1.5"/>
</g>
<path d="M851.6 159.6 V107.5 H1105.5 V231.75" fill="none" stroke="#999" stroke-width="0.8"/>
<path d="M853.8 159.6 V113.5 H1045" fill="none" stroke="#bbb" stroke-width="0.6"/>
<rect x="1045.0" y="118.3" width="50.3" height="114.0" fill="#efefef" stroke="#888" stroke-width="0.7" />
<line x1="1105.5" y1="107.5" x2="1105.5" y2="232.0" stroke="#666" stroke-width="1.2"/>
<rect x="1045.0" y="127.4" width="46.0" height="9.0" fill="#fff" stroke="#555" stroke-width="0.8" />
<rect x="1045.0" y="145.4" width="46.0" height="9.0" fill="#fff" stroke="#555" stroke-width="0.8" />
<rect x="1045.0" y="164.7" width="46.0" height="9.0" fill="#fff" stroke="#555" stroke-width="0.8" />
<rect x="1045.0" y="182.8" width="46.0" height="9.0" fill="#fff" stroke="#555" stroke-width="0.8" />
<rect x="1045.0" y="200.8" width="46.0" height="9.0" fill="#fff" stroke="#555" stroke-width="0.8" />
<rect x="1045.0" y="232.3" width="45.8" height="18.0" fill="#fff" stroke="#999" stroke-width="0.6" />
<line x1="1047.0" y1="248.5" x2="1089.0" y2="248.5" stroke="#666" stroke-width="0.8"/>
<rect x="856.8" y="113.7" width="188.2" height="18.0" fill="#878787" stroke="none" stroke-width="0.8" />
<rect x="856.8" y="113.7" width="19.2" height="65.3" fill="#878787" stroke="none" stroke-width="0.8" />
<rect x="856.8" y="208.0" width="19.2" height="161.6" fill="#878787" stroke="none" stroke-width="0.8" />
<rect x="856.0" y="179.0" width="20.0" height="29.0" fill="#fff" stroke="#777" stroke-width="0.7" />
<rect x="1026.0" y="113.7" width="19.0" height="191.3" fill="#878787" stroke="none" stroke-width="0.8" />
<rect x="856.8" y="351.0" width="33.0" height="18.6" fill="#878787" stroke="none" stroke-width="0.8" />
<rect x="990.0" y="351.0" width="50.5" height="18.6" fill="#878787" stroke="none" stroke-width="0.8" />
<rect x="889.7" y="351.0" width="100.3" height="19.0" fill="#fff" stroke="#777" stroke-width="0.6" />
<line x1="891.0" y1="354.0" x2="988.0" y2="354.0" stroke="#999" stroke-width="1.4"/>
<rect x="876.0" y="131.8" width="77.0" height="36.8" fill="#efefef" stroke="#888" stroke-width="0.8" />
<rect x="876.0" y="226.6" width="83.0" height="5.7" fill="#878787" stroke="none" stroke-width="0.8" />
<rect x="953.0" y="208.5" width="6.0" height="23.8" fill="#878787" stroke="none" stroke-width="0.8" />
<path d="M959 131.75 H1026 V214 H1000 V159 H959 Z" fill="#efefef" stroke="#888" stroke-width="0.7" />
<rect x="953.5" y="132.0" width="5.0" height="37.0" fill="#fff" stroke="#777" stroke-width="0.6" />
<rect x="1000.0" y="214.0" width="26.0" height="18.3" fill="#878787" stroke="none" stroke-width="0.8" />
<rect x="1003.0" y="218.0" width="21.0" height="9.0" fill="#fff" stroke="none" stroke-width="0.8" />
<g fill="none" stroke="#333" stroke-width="0.6"><circle cx="1008" cy="222.5" r="2"/><circle cx="1015" cy="222.5" r="2"/></g>
<path d="M886 226 V200 Q886 193 894 193 Q902 193 902 200 V226" fill="#efefef" stroke="#666" stroke-width="0.8" />
<rect x="915.0" y="205.0" width="32.0" height="21.0" fill="#efefef" stroke="#777" stroke-width="0.8" />
<rect x="919.0" y="209.0" width="24.0" height="11.0" fill="none" stroke="#555" stroke-width="0.7" />
<rect x="876.0" y="234.0" width="19.4" height="23.0" fill="#efefef" stroke="#888" stroke-width="0.8" />
<rect x="876.0" y="326.6" width="19.4" height="21.9" fill="#efefef" stroke="#888" stroke-width="0.8" />
<rect x="876.0" y="257.0" width="87.7" height="69.6" fill="#f0f0f0" stroke="#666" stroke-width="0.8" />
<line x1="890.8" y1="257.0" x2="890.8" y2="326.6" stroke="#777" stroke-width="0.7"/>
<path d="M1029.0 306.0 A42 42 0 0 0 987.0 348.0" fill="none" stroke="#555" stroke-width="0.8" stroke-dasharray="2.2 1.8" />
<rect x="989.0" y="345.0" width="37.8" height="6.2" fill="#fff" stroke="#777" stroke-width="0.6" />
<rect x="1090.8" y="232.3" width="152.6" height="18.0" fill="#878787" stroke="none" stroke-width="0.8" />
<rect x="1225.3" y="232.3" width="18.1" height="119.3" fill="#878787" stroke="none" stroke-width="0.8" />
<rect x="1237.0" y="332.0" width="18.6" height="248.0" fill="#878787" stroke="none" stroke-width="0.8" />
<rect x="1225.3" y="332.0" width="30.3" height="19.6" fill="#878787" stroke="none" stroke-width="0.8" />
<path d="M1119.6 250.3 H1225.3 V345 H1094 V304 H1182.8 V292 H1130 Q1119.6 292 1119.6 282 Z" fill="#efefef" stroke="#555" stroke-width="0.8"/>
<line x1="1132.0" y1="250.3" x2="1132.0" y2="292.0" stroke="#555" stroke-width="0.8"/>
<line x1="1145.0" y1="250.3" x2="1145.0" y2="292.0" stroke="#555" stroke-width="0.8"/>
<line x1="1157.5" y1="250.3" x2="1157.5" y2="292.0" stroke="#555" stroke-width="0.8"/>
<line x1="1170.0" y1="250.3" x2="1170.0" y2="292.0" stroke="#555" stroke-width="0.8"/>
<line x1="1106.5" y1="304.0" x2="1106.5" y2="345.0" stroke="#555" stroke-width="0.8"/>
<line x1="1119.0" y1="304.0" x2="1119.0" y2="345.0" stroke="#555" stroke-width="0.8"/>
<line x1="1132.0" y1="304.0" x2="1132.0" y2="345.0" stroke="#555" stroke-width="0.8"/>
<line x1="1145.0" y1="304.0" x2="1145.0" y2="345.0" stroke="#555" stroke-width="0.8"/>
<line x1="1157.5" y1="304.0" x2="1157.5" y2="345.0" stroke="#555" stroke-width="0.8"/>
<line x1="1170.0" y1="304.0" x2="1170.0" y2="345.0" stroke="#555" stroke-width="0.8"/>
<line x1="1182.8" y1="304.0" x2="1182.8" y2="345.0" stroke="#555" stroke-width="0.8"/>
<line x1="1119.6" y1="274.0" x2="1205.0" y2="274.0" stroke="#666" stroke-width="0.7"/>
<line x1="1182.8" y1="292.0" x2="1225.3" y2="250.3" stroke="#666" stroke-width="0.7"/>
<line x1="1182.8" y1="304.0" x2="1225.3" y2="345.0" stroke="#666" stroke-width="0.7"/>
<path d="M1130 292 H1182.8 V304 H1094" fill="#fff" stroke="#666" stroke-width="0.7" />
<path d="M1096 324 L1103 319 L1103 329 Z" fill="#fff" stroke="#666" stroke-width="0.7" />
<rect x="1013.4" y="369.6" width="223.6" height="191.4" fill="#fff" stroke="none" stroke-width="0.8" />
<rect x="1087.4" y="346.4" width="155.6" height="5.2" fill="#878787" stroke="none" stroke-width="0.8" />
<rect x="1087.0" y="349.0" width="6.0" height="67.0" fill="#878787" stroke="none" stroke-width="0.8" />
<path d="M1093 351.6 H1237 V378.4 H1116.6 V416 H1093 Z" fill="#efefef" stroke="#888" stroke-width="0.7" />
<rect x="1013.4" y="409.7" width="17.6" height="50.0" fill="#878787" stroke="none" stroke-width="0.8" />
<rect x="1013.4" y="552.5" width="17.6" height="27.5" fill="#878787" stroke="none" stroke-width="0.8" />
<rect x="1013.4" y="459.7" width="17.6" height="92.8" fill="#fff" stroke="#777" stroke-width="0.6" />
<line x1="1027.5" y1="462.0" x2="1027.5" y2="550.0" stroke="#999" stroke-width="1.4"/>
<rect x="1013.4" y="561.0" width="36.0" height="19.0" fill="#878787" stroke="none" stroke-width="0.8" />
<rect x="1149.4" y="561.0" width="15.6" height="19.0" fill="#878787" stroke="none" stroke-width="0.8" />
<rect x="1191.6" y="561.0" width="64.0" height="19.0" fill="#878787" stroke="none" stroke-width="0.8" />
<rect x="1049.4" y="561.0" width="100.0" height="19.0" fill="#fff" stroke="#777" stroke-width="0.6" />
<line x1="1051.0" y1="564.0" x2="1148.0" y2="564.0" stroke="#999" stroke-width="1.4"/>
<rect x="1158.8" y="414.0" width="7.8" height="166.0" fill="#878787" stroke="none" stroke-width="0.8" />
<rect x="1140.0" y="442.0" width="18.8" height="23.0" fill="#efefef" stroke="#888" stroke-width="0.8" />
<rect x="1140.0" y="534.7" width="18.8" height="21.9" fill="#efefef" stroke="#888" stroke-width="0.8" />
<rect x="1071.0" y="465.0" width="87.8" height="69.7" fill="#f0f0f0" stroke="#666" stroke-width="0.8" />
<line x1="1144.7" y1="465.0" x2="1144.7" y2="534.7" stroke="#777" stroke-width="0.7"/>
<rect x="1214.8" y="426.0" width="22.2" height="54.6" fill="#efefef" stroke="#777" stroke-width="0.8" />
<rect x="1218.0" y="431.0" width="13.0" height="23.0" fill="none" stroke="#666" stroke-width="0.7" />
<line x1="1226.0" y1="442.0" x2="1236.0" y2="442.0" stroke="#555" stroke-width="0.7"/>
<rect x="1164.6" y="424.0" width="5.9" height="39.0" fill="#fff" stroke="#777" stroke-width="0.6" />
<rect x="1080.0" y="414.5" width="31.0" height="4.0" fill="#fff" stroke="#777" stroke-width="0.6" />
<rect x="1165.0" y="522.0" width="72.0" height="39.0" fill="#efefef" stroke="#888" stroke-width="0.8" />
<path d="M1237 496 H1212 Q1204 496 1204 506 Q1204 516 1212 516 H1237" fill="#efefef" stroke="#666" stroke-width="0.8" />
<rect x="1223.5" y="379.0" width="13.5" height="40.0" fill="#878787" stroke="none" stroke-width="0.8" />
<rect x="1227.0" y="383.0" width="9.0" height="35.0" fill="#fff" stroke="none" stroke-width="0.8" />
<g fill="none" stroke="#444" stroke-width="0.6"><circle cx="1231.5" cy="392" r="2.3"/><circle cx="1231.5" cy="404" r="1.6"/><circle cx="1231.5" cy="413" r="2.8"/></g>
<rect x="1207.0" y="418.0" width="30.0" height="5.0" fill="#878787" stroke="none" stroke-width="0.8" />
<g fill="none" stroke="#666" stroke-width="0.6">
<path d="M862 370 L884.7 549.7 L1013 578.4 M884.7 549.7 L1011.9 370.7 M884.7 549.7 L862 578.4 M862 578.4 H1251 M862 578.4 L1218.6 610 M862 631.6 L1218.6 616 M1229.9 608.5 L1251 578.4 M1229.9 617.1 L1251 631.6"/>
<rect x="880" y="545" width="9" height="9"/><rect x="1218.6" y="608.5" width="11.3" height="8.6"/>
</g>
<path d="M987.8 370 L1011.9 405.6 H1031" fill="none" stroke="#777" stroke-width="0.7" stroke-dasharray="2 2" />
<path d="M976 370 V616.5 H1258" fill="none" stroke="#555" stroke-width="0.8" stroke-dasharray="4 2.5" />
<path d="M983.5 370 V608.8 H1251" fill="none" stroke="#666" stroke-width="0.7" stroke-dasharray="4 2.5" />
<g fill="#fafafa" opacity="0.8">
<path d="M965.7 603.7 H950 C929 603.7 917.5 617 917.5 632 C917.5 636 918.5 639.5 920 642.4 H933 C930 638 928.5 634 928.5 628 C928.5 615 937 608.5 950 608.5 H956.2 V642.4 H965.7 Z"/>
<path d="M965.7 603.7 H1016 L1012 608.5 H965.7 Z"/>
<path d="M1004 608 L1013 608 L982 642.4 L971 642.4 Z"/>
</g>
<path d="M1401.6 159.6 V108.5 H1652.4 V231.75" fill="none" stroke="#999" stroke-width="0.8" />
<path d="M1401.6 339 V640.5 H1808 V617" fill="none" stroke="#777" stroke-width="0.8" />
<path d="M1410 368 V631 H1798.6 V617" fill="none" stroke="#aaa" stroke-width="0.7" />
<line x1="1595.0" y1="127.0" x2="1640.0" y2="127.0" stroke="#666" stroke-width="0.8"/>
<line x1="1595.0" y1="136.3" x2="1640.0" y2="136.3" stroke="#666" stroke-width="0.8"/>
<line x1="1595.0" y1="145.6" x2="1640.0" y2="145.6" stroke="#666" stroke-width="0.8"/>
<line x1="1595.0" y1="154.9" x2="1640.0" y2="154.9" stroke="#666" stroke-width="0.8"/>
<line x1="1595.0" y1="164.2" x2="1640.0" y2="164.2" stroke="#666" stroke-width="0.8"/>
<line x1="1595.0" y1="173.5" x2="1640.0" y2="173.5" stroke="#666" stroke-width="0.8"/>
<line x1="1595.0" y1="182.8" x2="1640.0" y2="182.8" stroke="#666" stroke-width="0.8"/>
<line x1="1595.0" y1="192.1" x2="1640.0" y2="192.1" stroke="#666" stroke-width="0.8"/>
<line x1="1595.0" y1="201.4" x2="1640.0" y2="201.4" stroke="#666" stroke-width="0.8"/>
<line x1="1595.0" y1="210.7" x2="1640.0" y2="210.7" stroke="#666" stroke-width="0.8"/>
<path d="M1593 118.5 H1643.9 V232" fill="none" stroke="#888" stroke-width="0.8" />
<rect x="1749.0" y="640.5" width="54.5" height="80.1" fill="#fff" stroke="#777" stroke-width="0.8" />
<rect x="1758.0" y="640.5" width="36.0" height="70.5" fill="none" stroke="#888" stroke-width="0.7" />
<path d="M1406 113.2 H1593 V232.3 H1791 V332.8 H1803.5 V548.2 H1808.3 V617.4 H1524 V368.9 H1406 Z" fill="#f5f5f2"/>
<path d="M1406 113.2 H1593 V232.3 H1791 V332.8 H1803.5 V548.2 H1808.3 V617.4 H1524 V368.9 H1406 Z M1415 122.7 V360 H1533.6 V606.2 H1794.5 V341.8 H1782.5 V241.5 H1583.8 V122.7 Z" fill="#cdc8c1" fill-rule="evenodd"/>
<path d="M1415 122.7 V360 H1533.6 V606.2 H1794.5 V341.8 H1782.5 V241.5 H1583.8 V122.7 Z" fill="none" stroke="#bdb7b0" stroke-width="0.6"/>
<path d="M1406 113.2 H1593 V232.3 H1791 V332.8 H1803.5 V548.2 H1808.3 V617.4 H1524 V368.9 H1406 Z" fill="none" stroke="#8a8580" stroke-width="0.9"/>
<rect x="1542.6" y="209.0" width="40.7" height="27.4" fill="#878787" stroke="none" stroke-width="0.8" />
<rect x="1550.0" y="217.0" width="25.0" height="8.0" fill="#fff" stroke="none" stroke-width="0.8" />
<g fill="none" stroke="#333" stroke-width="0.6"><circle cx="1556" cy="221" r="2.2"/><circle cx="1563" cy="221" r="2.2"/><path d="M1568 224 v-1.5 M1571 224 v-1.5"/></g>
<rect x="1766.6" y="373.0" width="27.2" height="55.3" fill="#878787" stroke="none" stroke-width="0.8" />
<rect x="1775.0" y="380.0" width="10.0" height="41.0" fill="#fff" stroke="none" stroke-width="0.8" />
<g fill="none" stroke="#333" stroke-width="0.6"><circle cx="1780" cy="391" r="1.6"/><circle cx="1780" cy="402" r="2"/><circle cx="1780" cy="412" r="2.4"/></g>
<g fill="none" stroke="#555" stroke-width="0.6">
<path d="M1415 122.7 L1535 197 M1583.8 122.7 L1542 197 M1535 206 L1415 360 M1542 206 L1533.6 360 M1543 240 L1750 378 M1794 335 L1758 378 M1750 387 L1533.6 606 M1758 387 L1794 606"/>
<rect x="1534" y="196" width="9" height="10"/><rect x="1749" y="377" width="10" height="10"/>
</g>
<path d="M1757 244 H1781 V334 H1757 Z" fill="none" stroke="#777" stroke-width="0.7" stroke-dasharray="3 2" />
<g transform="translate(1659.4 370) rotate(-15)">
<rect x="-45.4" y="-68.0" width="90.8" height="45.3" fill="#c9cad1" stroke="#555" stroke-width="0.7" stroke-dasharray="2.5 1.2"/>
<rect x="-42.5" y="-65.5" width="85" height="40.3" fill="none" stroke="#777" stroke-width="0.5"/>
<path d="M-8 -46.0 l9 -7 v4 h12 v6.5 h-12 v4 z" fill="#555"/>
<rect x="-45.4" y="-22.7" width="90.8" height="45.3" fill="#c9cad1" stroke="#555" stroke-width="0.7" stroke-dasharray="2.5 1.2"/>
<rect x="-42.5" y="-20.2" width="85" height="40.3" fill="none" stroke="#777" stroke-width="0.5"/>
<path d="M-8 -0.7 l9 -7 v4 h12 v6.5 h-12 v4 z" fill="#555"/>
<rect x="-45.4" y="22.6" width="90.8" height="45.3" fill="#c9cad1" stroke="#555" stroke-width="0.7" stroke-dasharray="2.5 1.2"/>
<rect x="-42.5" y="25.1" width="85" height="40.3" fill="none" stroke="#777" stroke-width="0.5"/>
<path d="M-8 44.6 l9 -7 v4 h12 v6.5 h-12 v4 z" fill="#555"/>
</g>
<path d="M1543 240 L1750 378" stroke="#555" stroke-width="0.6" fill="none" opacity="0.8"/>
<g fill="none" stroke="#1a1a1a">
<path d="M1805.5 144.1 A53 53 0 1 1 1781.4 56.2" stroke-width="2" stroke-dasharray="4 4.5"/>
<circle cx="1767.3" cy="107.3" r="30" stroke-width="3.6"/>
<line x1="1729" y1="70.6" x2="1806" y2="144.5" stroke-width="2.2"/>
<line x1="1781.5" y1="55.9" x2="1754" y2="159.2" stroke-width="2.2"/>
<line x1="1766" y1="108" x2="1799" y2="98" stroke-width="5.5"/>
<path d="M1737 55.5 L1749 57.5 L1742 68" stroke-width="2"/>
<path d="M1782 152.5 L1770 160 L1782 166.5 M1766 160 H1776" stroke-width="2"/>
</g>
<g fill="#fff" stroke="#1a1a1a" stroke-width="2"><circle cx="1729" cy="70.6" r="3"/><circle cx="1806" cy="144.5" r="3"/><circle cx="1781.5" cy="55.9" r="3"/><circle cx="1754" cy="159.2" r="3"/><circle cx="1716" cy="122" r="3"/></g>
<text transform="translate(1802.5 109.5) scale(0.98 1)" font-family="Liberation Sans,sans-serif" font-weight="bold" font-size="34.5" fill="#1a1a1a">N</text>
<circle cx="380" cy="195" r="20.9" fill="#141414"/>
<text x="380" y="205.5" font-family="Liberation Sans,sans-serif" font-size="29" fill="#fff" stroke="#fff" stroke-width="1" text-anchor="middle">4</text>
<circle cx="637" cy="125" r="20.9" fill="#141414"/>
<text x="637" y="135.5" font-family="Liberation Serif,serif" font-weight="bold" font-size="31" fill="#fff" stroke="#fff" stroke-width="0.6" text-anchor="middle" letter-spacing="0">15</text>
<circle cx="424" cy="329" r="20.9" fill="#141414"/>
<text x="424" y="339.5" font-family="Liberation Serif,serif" font-weight="bold" font-size="30" fill="#fff" stroke="#fff" stroke-width="0.6" text-anchor="middle">3</text>
<circle cx="517" cy="330" r="20.9" fill="#141414"/>
<text x="517" y="340.5" font-family="Liberation Serif,serif" font-weight="bold" font-size="30" fill="#fff" stroke="#fff" stroke-width="0.6" text-anchor="middle">2</text>
<circle cx="485" cy="534" r="20.9" fill="#141414"/>
<text x="485" y="544.5" font-family="Liberation Serif,serif" font-weight="bold" font-size="30" fill="#fff" stroke="#fff" stroke-width="0.6" text-anchor="middle">1</text>
<circle cx="485" cy="609" r="20.9" fill="#141414"/>
<text x="485" y="619.5" font-family="Liberation Serif,serif" font-weight="bold" font-size="30" fill="#fff" stroke="#fff" stroke-width="0.6" text-anchor="middle">5</text>
<circle cx="632" cy="639" r="20.9" fill="#141414"/>
<text x="632" y="649.5" font-family="Liberation Serif,serif" font-weight="bold" font-size="31" fill="#fff" stroke="#fff" stroke-width="0.6" text-anchor="middle" letter-spacing="0">12</text>
<circle cx="457" cy="735" r="20.9" fill="#141414"/>
<text x="457" y="745.5" font-family="Liberation Serif,serif" font-weight="bold" font-size="31" fill="#fff" stroke="#fff" stroke-width="0.6" text-anchor="middle" letter-spacing="0">14</text>
<circle cx="457" cy="856" r="20.9" fill="#141414"/>
<text x="457" y="866.5" font-family="Liberation Serif,serif" font-weight="bold" font-size="31" fill="#fff" stroke="#fff" stroke-width="0.6" text-anchor="middle" letter-spacing="0">13</text>
<circle cx="931" cy="178" r="20.9" fill="#141414"/>
<text x="931" y="188.5" font-family="Liberation Serif,serif" font-weight="bold" font-size="30" fill="#fff" stroke="#fff" stroke-width="0.6" text-anchor="middle">8</text>
<circle cx="920" cy="291" r="20.9" fill="#141414"/>
<text x="920" y="301.5" font-family="Liberation Serif,serif" font-weight="bold" font-size="30" fill="#fff" stroke="#fff" stroke-width="0.6" text-anchor="middle">7</text>
<circle cx="1062" cy="331" r="20.9" fill="#141414"/>
<text x="1062" y="341.5" font-family="Liberation Serif,serif" font-weight="bold" font-size="30" fill="#fff" stroke="#fff" stroke-width="0.6" text-anchor="middle">6</text>
<circle cx="952" cy="496" r="20.9" fill="#141414"/>
<text x="952" y="506.5" font-family="Liberation Serif,serif" font-weight="bold" font-size="31" fill="#fff" stroke="#fff" stroke-width="0.6" text-anchor="middle" letter-spacing="0">11</text>
<circle cx="1108" cy="500" r="20.9" fill="#141414"/>
<text x="1108" y="510.5" font-family="Liberation Serif,serif" font-weight="bold" font-size="30" fill="#fff" stroke="#fff" stroke-width="0.6" text-anchor="middle">9</text>
<circle cx="1190" cy="471" r="20.9" fill="#141414"/>
<text x="1190" y="481.5" font-family="Liberation Serif,serif" font-weight="bold" font-size="31" fill="#fff" stroke="#fff" stroke-width="0.6" text-anchor="middle" letter-spacing="0">10</text>
<circle cx="1500" cy="309" r="20.9" fill="#141414"/>
<text x="1500" y="319.5" font-family="Liberation Serif,serif" font-weight="bold" font-size="31" fill="#fff" stroke="#fff" stroke-width="0.6" text-anchor="middle" letter-spacing="0">16</text>
<circle cx="1759" cy="292" r="20.9" fill="#141414"/>
<text x="1759" y="302.5" font-family="Liberation Serif,serif" font-weight="bold" font-size="31" fill="#fff" stroke="#fff" stroke-width="0.6" text-anchor="middle" letter-spacing="0">17</text>
<circle cx="1708" cy="381" r="20.9" fill="#141414"/>
<text x="1708" y="391.5" font-family="Liberation Serif,serif" font-weight="bold" font-size="31" fill="#fff" stroke="#fff" stroke-width="0.6" text-anchor="middle" letter-spacing="0">18</text>
<rect x="1092" y="840" width="374.5" height="409.5" fill="#f7f4f0"/>
<rect x="1477" y="840" width="373" height="409.5" fill="#f7f4f0"/>
<line x1="1091" y1="877.5" x2="1466" y2="877.5" stroke="#9a9793" stroke-width="1.2"/>
<line x1="1476" y1="877.5" x2="1851" y2="877.5" stroke="#9a9793" stroke-width="1.2"/>
<g font-family="Liberation Serif,serif" fill="#111">
<text transform="translate(1104 863) scale(1.08 1)" font-size="18" font-weight="bold">CONSTRUCTED AREA</text>
<text transform="translate(1394 863) scale(1.08 1)" font-size="18" font-weight="bold">(m²)</text>
<text transform="translate(1104 910) scale(1.08 1)" font-size="18" font-weight="bold">GROUND FLOOR</text>
<text transform="translate(1394 910) scale(1.08 1)" font-size="18" font-weight="bold">84,40</text>
<text transform="translate(1104 933) scale(1.115 1)" font-size="18"><tspan font-weight="bold">1</tspan> Living room-kitchen</text>
<text transform="translate(1394 933) scale(1.115 1)" font-size="18">35,2</text>
<text transform="translate(1104 956.5) scale(1.115 1)" font-size="18"><tspan font-weight="bold">2</tspan> Hallway</text>
<text transform="translate(1394 956.5) scale(1.115 1)" font-size="18">4,70</text>
<text transform="translate(1104 979.6) scale(1.115 1)" font-size="18"><tspan font-weight="bold">3</tspan> Bathroom 1</text>
<text transform="translate(1394 979.6) scale(1.115 1)" font-size="18">4,45</text>
<text transform="translate(1104 1003) scale(1.115 1)" font-size="18"><tspan font-weight="bold">4</tspan> Bedroom 1</text>
<text transform="translate(1394 1003) scale(1.115 1)" font-size="18">10,60</text>
<text transform="translate(1104 1026) scale(1.115 1)" font-size="18"><tspan font-weight="bold">5</tspan> Terrace</text>
<text transform="translate(1394 1026) scale(1.115 1)" font-size="18">11,30</text>
<text transform="translate(1104 1095.4) scale(1.08 1)" font-size="18" font-weight="bold">FIRST FLOOR</text>
<text transform="translate(1394 1095.4) scale(1.08 1)" font-size="18" font-weight="bold">62,95</text>
<text transform="translate(1104 1118.7) scale(1.115 1)" font-size="18"><tspan font-weight="bold">6</tspan> Hallway</text>
<text transform="translate(1394 1118.7) scale(1.115 1)" font-size="18">2,95</text>
<text transform="translate(1104 1141.9) scale(1.115 1)" font-size="18"><tspan font-weight="bold">7</tspan> Bedroom 2</text>
<text transform="translate(1394 1141.9) scale(1.115 1)" font-size="18">11,95</text>
<text transform="translate(1104 1165) scale(1.115 1)" font-size="18"><tspan font-weight="bold">8</tspan> Bathroom 2</text>
<text transform="translate(1394 1165) scale(1.115 1)" font-size="18">3,40</text>
<text transform="translate(1104 1188) scale(1.115 1)" font-size="18"><tspan font-weight="bold">9</tspan> Bedroom 3</text>
<text transform="translate(1394 1188) scale(1.115 1)" font-size="18">13,10</text>
<text transform="translate(1104 1211.5) scale(1.115 1)" font-size="18"><tspan font-weight="bold">10</tspan> Bathroom 2</text>
<text transform="translate(1394 1211.5) scale(1.115 1)" font-size="18">4,60</text>
<text transform="translate(1104 1234.6) scale(1.115 1)" font-size="18"><tspan font-weight="bold">11</tspan> Terrace</text>
<text transform="translate(1394 1234.6) scale(1.115 1)" font-size="18">16,45</text>
<text transform="translate(1491 863) scale(1.08 1)" font-size="18" font-weight="bold">AREA</text>
<text transform="translate(1782 863) scale(1.08 1)" font-size="18" font-weight="bold">(m²)</text>
<text transform="translate(1491 910.7) scale(1.08 1)" font-size="18" font-weight="bold">12 SUMMER KITCHEN</text>
<text transform="translate(1781 910.7) scale(1.08 1)" font-size="18" font-weight="bold">2,30</text>
<text transform="translate(1491 956.8) scale(1.08 1)" font-size="18" font-weight="bold">13 POOL</text>
<text transform="translate(1781 956.8) scale(1.08 1)" font-size="18" font-weight="bold">17,00</text>
<text transform="translate(1491 1003.5) scale(1.08 1)" font-size="18" font-weight="bold">14 SOLARIUM</text>
<text transform="translate(1781 1003.5) scale(1.08 1)" font-size="18" font-weight="bold">86,00</text>
<text transform="translate(1491 1049.6) scale(1.08 1)" font-size="18" font-weight="bold">15 PARKING</text>
<text transform="translate(1491 1095.5) scale(1.08 1)" font-size="18" font-weight="bold">16 FLAT ROOF</text>
<text transform="translate(1491 1119) scale(1.092 1)" font-size="18"><tspan font-weight="bold">17</tspan> <tspan font-size="14">Space reserved for outdoor air conditioning units</tspan></text>
<text transform="translate(1491 1142) scale(1.092 1)" font-size="18"><tspan font-weight="bold">18</tspan> <tspan font-size="14">Space reserved for outdoor photovoltaic panel units</tspan></text>
</g></svg>
</body></html>
